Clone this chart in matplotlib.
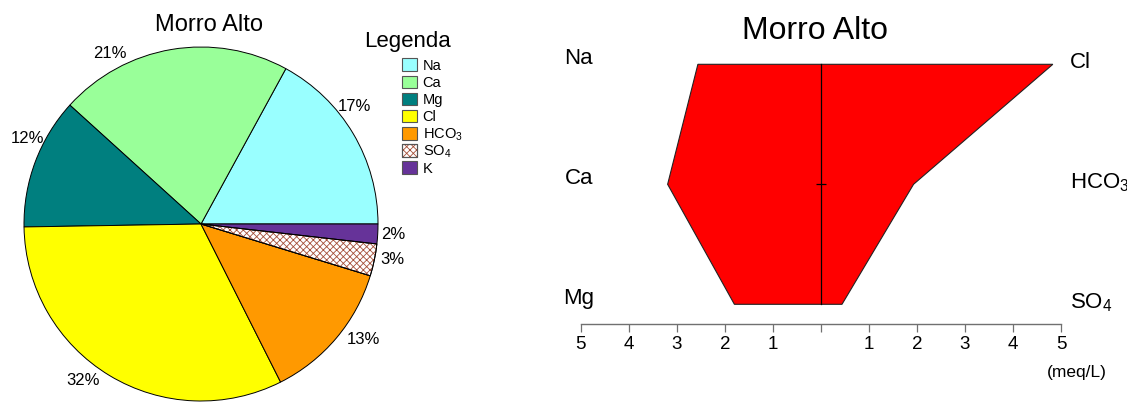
import matplotlib
matplotlib.use("Agg")
import matplotlib.pyplot as plt
from matplotlib.patches import Wedge, Rectangle
import numpy as np

plt.rcParams['font.family'] = ['Liberation Sans', 'DejaVu Sans']
plt.rcParams['mathtext.fontset'] = 'custom'
plt.rcParams['mathtext.rm'] = 'Liberation Sans'
plt.rcParams['mathtext.default'] = 'regular'
plt.rcParams['hatch.linewidth'] = 0.6

# ---------------- data ----------------
ions = ['Na', 'Ca', 'Mg', 'Cl', 'HCO$_3$', 'SO$_4$', 'K']
meq = [2.56, 3.19, 1.80, 4.83, 1.93, 0.44, 0.27]   # meq/L
colors = ['#99FFFF', '#99FF99', '#007F7F', '#FFFF00', '#FF9900', '#FFFFFF', '#663399']
hatches = [None, None, None, None, None, 'xxxxx', None]

cations = ['Na', 'Ca', 'Mg']
anions = ['Cl', 'HCO$_3$', 'SO$_4$']
cation_vals = [2.56, 3.19, 1.80]
anion_vals = [4.83, 1.93, 0.44]
xticks = [-5, -4, -3, -2, -1, 0, 1, 2, 3, 4, 5]
xticklabels = ['5', '4', '3', '2', '1', '', '1', '2', '3', '4', '5']
title = 'Morro Alto'

# label layout for pie percentages (in pie-radius units)
label_pos = [(0.865, 0.662), (-0.516, 0.964), (-0.980, 0.484), (-0.665, -0.887),
             (0.920, -0.652), (1.082, -0.203), (1.087, -0.062)]

W, H = 1127, 403
fig = plt.figure(figsize=(W / 100, H / 100), dpi=100)

def fx(x):
    return x / W

def fy(y):
    return 1 - y / H

# ---------------- pie ----------------
cx, cy, r = 201, 224, 177
axp = fig.add_axes([fx(cx - r), fy(cy + r), 2 * r / W, 2 * r / H])
wedges, _ = axp.pie(meq, colors=colors, startangle=0, counterclock=True,
                    wedgeprops=dict(edgecolor='black', linewidth=0.7))
hatch_col = '#A5503A'
for w, h in zip(wedges, hatches):
    if h:
        hw = Wedge(w.center, w.r, w.theta1, w.theta2, facecolor='none',
                   edgecolor=hatch_col, hatch=h, linewidth=0)
        axp.add_patch(hw)
        ow = Wedge(w.center, w.r, w.theta1, w.theta2, facecolor='none',
                   edgecolor='black', linewidth=0.7)
        axp.add_patch(ow)
axp.set_xlim(-1, 1)
axp.set_ylim(-1, 1)
axp.set_aspect('auto')
axp.axis('off')
total = sum(meq)
for v, (lx, ly) in zip(meq, label_pos):
    axp.text(lx, ly, f"{round(100 * v / total)}%", fontsize=12, ha='center',
             va='center', clip_on=False)

fig.text(fx(208.7), fy(30.7), title, fontsize=17, ha='center', va='baseline')

# legend
fig.text(fx(407.5), fy(46.7), 'Legenda', fontsize=16, ha='center', va='baseline')
row0, drow = 64.5, 17.2
for i, (lab, c, h) in enumerate(zip(ions, colors, hatches)):
    yc = row0 + i * drow
    rect = Rectangle((fx(401.7), fy(yc + 6.2)), 15 / W, 12.4 / H, transform=fig.transFigure,
                     facecolor=c, edgecolor='#555555', linewidth=0.8)
    fig.add_artist(rect)
    if h:
        hr = Rectangle((fx(401.7), fy(yc + 6.2)), 15 / W, 12.4 / H, transform=fig.transFigure,
                       facecolor='none', edgecolor=hatch_col, hatch=h, linewidth=0)
        fig.add_artist(hr)
        fig.add_artist(Rectangle((fx(401.7), fy(yc + 6.2)), 15 / W, 12.4 / H,
                                 transform=fig.transFigure, facecolor='none',
                                 edgecolor='#555555', linewidth=0.8))
    fig.text(fx(422.7), fy(yc + 5.3), lab, fontsize=10.5, ha='left', va='baseline')

# ---------------- stiff diagram ----------------
x0, x1 = 580.7, 1061.0
yaxis_px = 324.0
row_px = 120.0
ymin = 1 - (yaxis_px - 304.3) / row_px
ymax = 3.3
axs = fig.add_axes([fx(x0), 1 - yaxis_px / H, (x1 - x0) / W, (ymax - ymin) * row_px / H])
rows = [3, 2, 1]
xs = [-v for v in cation_vals] + anion_vals[::-1]
ys = rows + rows[::-1]
axs.fill(xs, ys, facecolor='#FF0000', edgecolor='#222222', linewidth=0.8, zorder=2)
axs.plot([0, 0], [min(rows), max(rows)], color='black', linewidth=0.9, zorder=3)
axs.hlines([2], -0.1, 0.1, color='black', linewidth=0.9, zorder=3)
axs.set_xlim(-5, 5)
axs.set_ylim(ymin, ymax)
for s in ['left', 'right', 'top']:
    axs.spines[s].set_visible(False)
axs.spines['bottom'].set_color('#707070')
axs.spines['bottom'].set_linewidth(1.0)
axs.set_yticks([])
axs.set_xticks(xticks)
axs.set_xticklabels(xticklabels, fontsize=13.5)
axs.tick_params(axis='x', direction='out', length=5.8, width=0.9, color='#707070', pad=3.0)
axs.patch.set_visible(False)
for lab, yv in zip(cations, rows):
    axs.text(-5.04, yv, lab, fontsize=16, ha='center', va='baseline', clip_on=False)
for lab, yv in zip(anions, rows):
    axs.text(5.19, yv - 0.03, lab, fontsize=16, ha='left', va='baseline', clip_on=False)
axs.text(5.33, ymin - (376.5 - yaxis_px) / row_px, '(meq/L)', fontsize=12.5,
         ha='center', va='baseline', clip_on=False)

fig.text(fx(815), fy(39.3), title, fontsize=23, ha='center', va='baseline')

fig.savefig('out.png', dpi=100)
